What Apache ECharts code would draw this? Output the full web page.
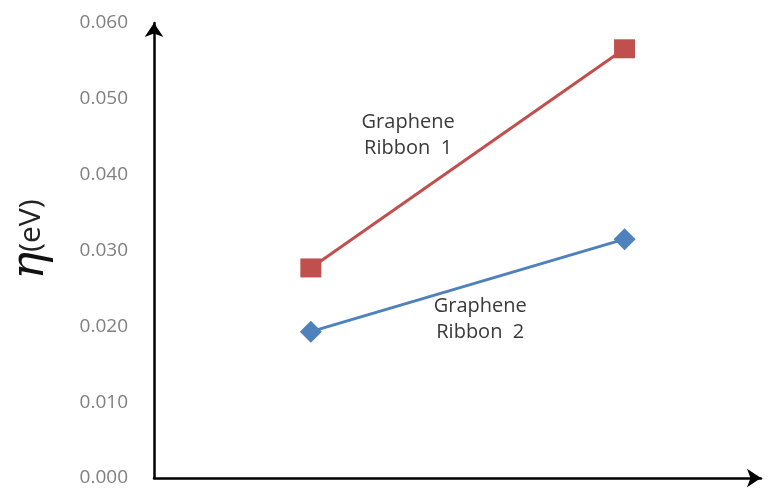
<!DOCTYPE html>
<html>
<head>
<meta charset="utf-8">
<script src="https://cdn.jsdelivr.net/npm/echarts@6/dist/echarts.min.js"></script>
<style>html,body{margin:0;padding:0;background:#fff;}#c{width:771px;height:488px;}</style>
</head>
<body>
<div id="c"></div>
<script>
// Data
const xValues = [1, 3];
const ribbon1 = [0.0277, 0.0566];
const ribbon2 = [0.0193, 0.0315];
const yTicks = [0, 0.01, 0.02, 0.03, 0.04, 0.05, 0.06];
const seriesNames = ['Graphene Ribbon 1', 'Graphene Ribbon 2'];
const annotText = ['Graphene\nRibbon  1', 'Graphene\nRibbon  2'];
const annotX = [1.62, 2.08];
const annotY = [0.0452, 0.0209];

const chart = echarts.init(document.getElementById('c'), null, {renderer: 'canvas'});

function pairs(xs, ys) { return xs.map((x, i) => [x, ys[i]]); }

const annotLabel = {
  show: true,
  position: 'inside',
  fontFamily: 'Open Sans',
  fontSize: 20,
  lineHeight: 26,
  color: '#3a3a3a',
  align: 'center'
};

chart.setOption({
  animation: false,
  backgroundColor: '#fff',
  grid: {left: 154, right: 10, top: 23, bottom: 10, containLabel: false},
  xAxis: {
    type: 'value', min: 0, max: 3.87,
    axisLine: {show: true, onZero: true, symbol: ['none', 'arrow'], symbolSize: [14, 14],
      lineStyle: {color: '#000', width: 2.5}},
    axisTick: {show: false}, axisLabel: {show: false}, splitLine: {show: false}
  },
  yAxis: {
    type: 'value', min: yTicks[0], max: yTicks[yTicks.length - 1], interval: 0.01,
    axisLine: {show: true, onZero: true, symbol: ['none', 'arrow'], symbolSize: [14, 14],
      lineStyle: {color: '#000', width: 2.5}},
    axisTick: {show: false},
    splitLine: {show: false},
    axisLabel: {margin: 26, color: '#808080', fontFamily: 'Open Sans', fontSize: 19,
      formatter: v => v.toFixed(3)},
    name: '{eta|η}{ev|(eV)}',
    nameLocation: 'middle',
    nameRotate: 90,
    nameGap: 100,
    nameTextStyle: {
      padding: [0, 0, 0, 22],
      rich: {
        eta: {fontFamily: 'DejaVu Serif', fontStyle: 'italic', fontSize: 46, color: '#111'},
        ev: {fontFamily: 'Open Sans', fontSize: 30, color: '#222'}
      }
    }
  },
  series: [
    {
      name: seriesNames[0], type: 'line', data: pairs(xValues, ribbon1),
      symbol: 'rect', symbolSize: [21, 19],
      lineStyle: {color: '#C0504D', width: 3}, itemStyle: {color: '#C0504D'},
      markPoint: {
        symbol: 'circle', symbolSize: 1, itemStyle: {color: 'transparent'},
        label: annotLabel,
        data: [{coord: [annotX[0], annotY[0]], value: annotText[0], label: {formatter: annotText[0]}}]
      }
    },
    {
      name: seriesNames[1], type: 'line', data: pairs(xValues, ribbon2),
      symbol: 'diamond', symbolSize: [22, 22],
      lineStyle: {color: '#4F81BD', width: 3}, itemStyle: {color: '#4F81BD'},
      markPoint: {
        symbol: 'circle', symbolSize: 1, itemStyle: {color: 'transparent'},
        label: annotLabel,
        data: [{coord: [annotX[1], annotY[1]], value: annotText[1], label: {formatter: annotText[1]}}]
      }
    }
  ]
});
</script>
</body>
</html>
